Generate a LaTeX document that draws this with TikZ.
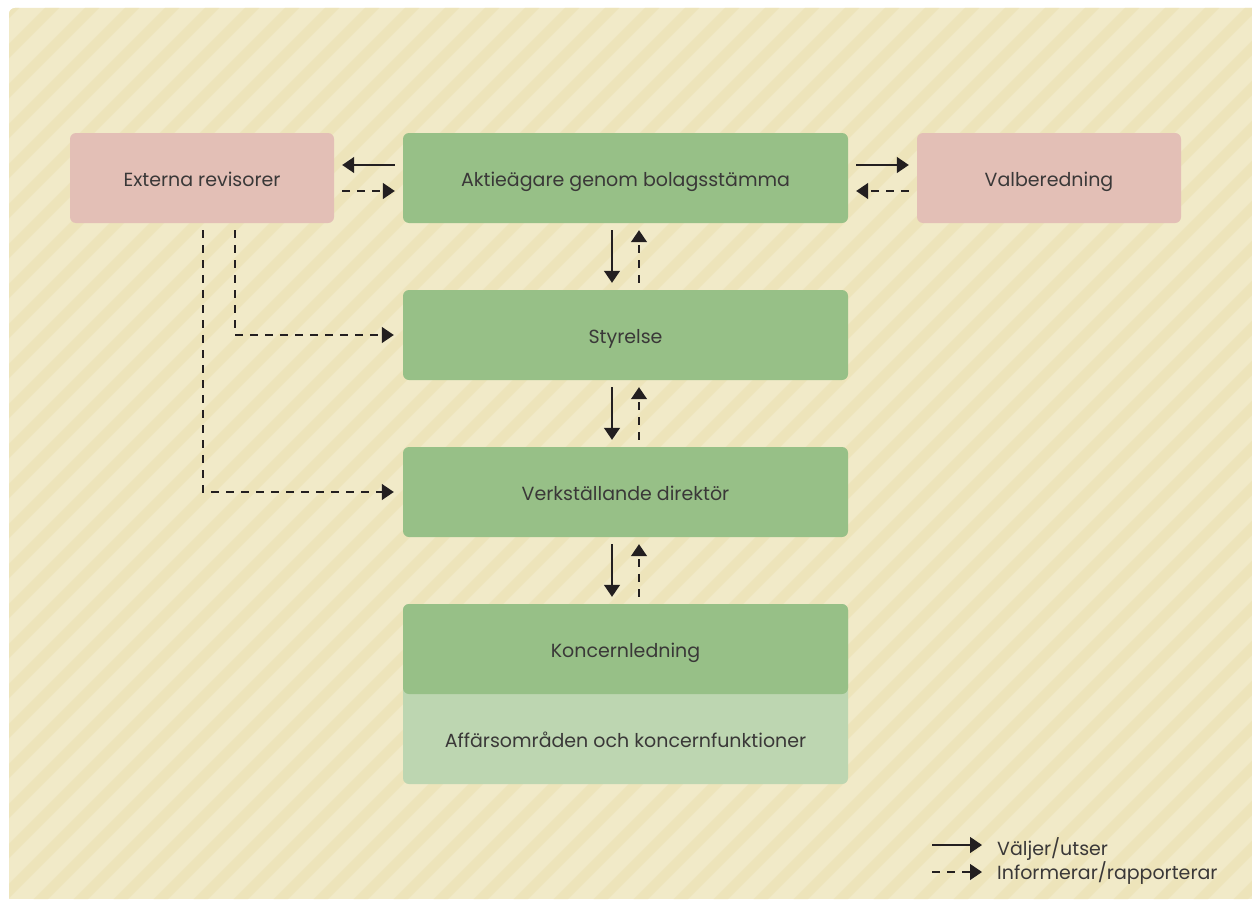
\documentclass[tikz,border=0pt]{standalone}
\usepackage{fontspec}
\setmainfont{Poppins}
\usetikzlibrary{arrows.meta}
\definecolor{bgbase}{HTML}{F1EAC8}
\definecolor{bgstripe}{HTML}{EDE4BA}
\definecolor{pinkbox}{HTML}{E3BFB6}
\definecolor{greenbox}{HTML}{97C087}
\definecolor{lightgreen}{HTML}{BDD6B1}
\definecolor{ink}{HTML}{231F20}
\definecolor{txt}{HTML}{3A3838}
\tikzset{
  boxtext/.style={font=\fontsize{19}{22}\selectfont, text=txt, inner sep=0pt, text height=16pt, text depth=0pt},
  pinkbox/.style={boxtext, fill=pinkbox, rounded corners=6pt, minimum width=264pt, minimum height=90pt},
  greenbox/.style={boxtext, fill=greenbox, rounded corners=6pt, minimum width=445pt, minimum height=90pt},
  plainbox/.style={boxtext, minimum width=445pt, minimum height=90pt},
  sel/.style={draw=ink, line width=1.4pt, -{Triangle[length=12pt,width=16pt]}},
  inf/.style={sel, dash pattern=on 8pt off 7pt},
  legtext/.style={font=\fontsize{19}{22}\selectfont, text=txt, inner sep=0pt, anchor=base west},
  stripe/.style={draw=bgstripe, line width=10pt}
}
\begin{document}
\begin{tikzpicture}[x=1pt,y=-1pt]
\useasboundingbox (0,0) rectangle (1252,899);
% background
\begin{scope}
  \path[clip] (9,899) -- (9,14) arc[start angle=180,end angle=270,radius=6] -- (1252,8) -- (1252,899) -- cycle;
  \fill[bgbase] (0,0) rectangle (1252,899);
  \foreach \c in {0,40,...,2280} { \draw[stripe] (\c,-20) -- (\c-940,920); }
\end{scope}
% boxes
\node[pinkbox] (ext) at (202,178) {Externa revisorer};
\node[pinkbox] (val) at (1049,178) {Valberedning};
\node[greenbox] (akt) at (625.5,178) {Aktieägare genom bolagsstämma};
\node[greenbox] (sty) at (625.5,335) {Styrelse};
\node[greenbox] (vd) at (625.5,492) {Verkställande direktör};
\fill[lightgreen, rounded corners=6pt] (403,604) rectangle (848,784);
\fill[greenbox] (403,694) {[rounded corners=6pt] -- (403,604) -- (848,604)} -- (848,694) -- cycle;
\node[plainbox] (kl) at (625.5,649) {Koncernledning};
\node[plainbox] (af) at (625.5,739) {Affärsområden och koncernfunktioner};
% horizontal connectors
\draw[sel] ([shift={(-8,-13)}]akt.west) -- ([shift={(8,-13)}]ext.east);
\draw[inf] ([shift={(8,13)}]ext.east) -- ([shift={(-8,13)}]akt.west);
\draw[sel] ([shift={(8,-13)}]akt.east) -- ([shift={(-8,-13)}]val.west);
\draw[inf] ([shift={(-8,13)}]val.west) -- ([shift={(8,13)}]akt.east);
% vertical connectors
\draw[sel] ([shift={(-13.5,7)}]akt.south) -- ([shift={(-13.5,-7)}]sty.north);
\draw[inf] ([shift={(13.5,-7)}]sty.north) -- ([shift={(13.5,7)}]akt.south);
\draw[sel] ([shift={(-13.5,7)}]sty.south) -- ([shift={(-13.5,-7)}]vd.north);
\draw[inf] ([shift={(13.5,-7)}]vd.north) -- ([shift={(13.5,7)}]sty.south);
\draw[sel] ([shift={(-13.5,7)}]vd.south) -- ([shift={(-13.5,-7)}]kl.north);
\draw[inf] ([shift={(13.5,-7)}]kl.north) -- ([shift={(13.5,7)}]vd.south);
% auditors reporting
\draw[inf] ([shift={(33,7)}]ext.south) |- ([xshift=-9]sty.west);
\draw[inf] ([shift={(1,7)}]ext.south) |- ([xshift=-9]vd.west);
% legend
\node[legtext] (lg1) at (997,855) {Väljer/utser};
\node[legtext] (lg2) at (997,879.5) {Informerar/rapporterar};
\coordinate (l1) at (932,845);
\coordinate (l2) at (932,872);
\draw[sel] (l1) -- ([xshift=-15]lg1.west |- l1);
\draw[inf] (l2) -- ([xshift=-15]lg2.west |- l2);
\end{tikzpicture}
\end{document}
